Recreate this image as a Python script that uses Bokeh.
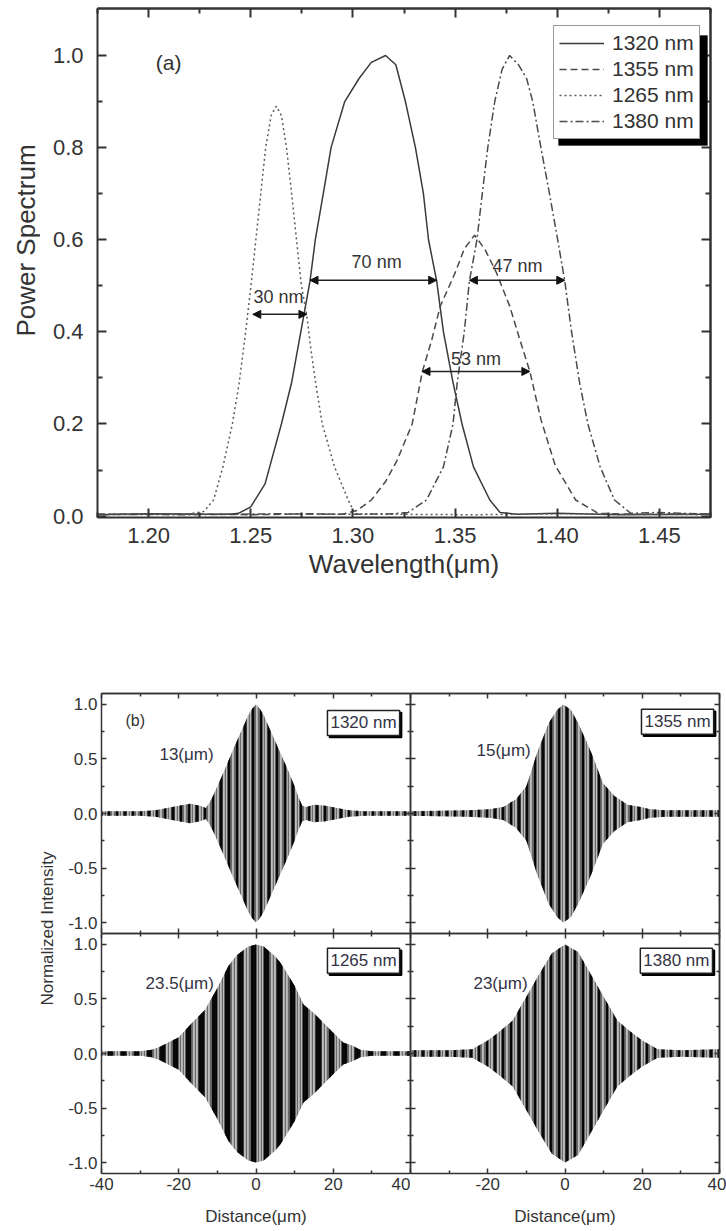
from bokeh.plotting import figure
from bokeh.models import (ColumnDataSource, Range1d, LinearAxis, FixedTicker,
                          NumeralTickFormatter, Legend, LegendItem, Arrow,
                          NormalHead, Label, BoxAnnotation)
from bokeh.layouts import column, row
from bokeh.embed import file_html
from bokeh.resources import INLINE
from bokeh.core.properties import value

FONT = "Liberation Sans"
INK = "#333333"

# ---------------- panel (a): power spectra ----------------
wl_1320 = [1.175, 1.20, 1.225, 1.240, 1.244, 1.250, 1.257, 1.265, 1.270, 1.2745, 1.279,
           1.2816, 1.2855, 1.2893, 1.296, 1.303, 1.309, 1.316, 1.321, 1.3257, 1.3306,
           1.3345, 1.337, 1.341, 1.3443, 1.349, 1.3534, 1.359, 1.367, 1.372, 1.38, 1.40,
           1.43, 1.475]
ps_1320 = [0.003, 0.005, 0.004, 0.004, 0.006, 0.02, 0.07, 0.2, 0.29, 0.4, 0.51,
           0.6, 0.7, 0.8, 0.9, 0.95, 0.985, 1.0, 0.98, 0.9, 0.8,
           0.7, 0.6, 0.51, 0.4, 0.29, 0.2, 0.107, 0.035, 0.008, 0.004, 0.006,
           0.003, 0.004]

wl_1355 = [1.175, 1.21, 1.25, 1.28, 1.295, 1.302, 1.309, 1.316, 1.3215, 1.329, 1.334,
           1.3386, 1.3427, 1.35, 1.3545, 1.3595, 1.3645, 1.3703, 1.3768, 1.3817, 1.3866,
           1.392, 1.399, 1.409, 1.42, 1.44, 1.475]
ps_1355 = [0.004, 0.005, 0.003, 0.005, 0.004, 0.012, 0.035, 0.075, 0.12, 0.2, 0.314,
           0.383, 0.455, 0.528, 0.58, 0.61, 0.58, 0.528, 0.455, 0.383, 0.314,
           0.21, 0.11, 0.035, 0.006, 0.004, 0.005]

wl_1265 = [1.175, 1.20, 1.22, 1.227, 1.2318, 1.2364, 1.241, 1.2443, 1.2475, 1.2501,
           1.2525, 1.2549, 1.2573, 1.260, 1.2625, 1.265, 1.2675, 1.270, 1.2724, 1.2748,
           1.2773, 1.2795, 1.2818, 1.285, 1.291, 1.2977, 1.301, 1.32, 1.36, 1.40, 1.44,
           1.475]
ps_1265 = [0.003, 0.004, 0.005, 0.01, 0.035, 0.107, 0.2, 0.288, 0.4, 0.5,
           0.6, 0.7, 0.8, 0.87, 0.89, 0.87, 0.8, 0.7, 0.6, 0.5,
           0.44, 0.36, 0.288, 0.2, 0.107, 0.035, 0.005, 0.004, 0.003, 0.005, 0.004,
           0.003]

wl_1380 = [1.175, 1.22, 1.26, 1.30, 1.32, 1.327, 1.336, 1.3443, 1.349, 1.351, 1.3545,
           1.357, 1.3607, 1.3633, 1.366, 1.3694, 1.373, 1.3767, 1.381, 1.385, 1.388,
           1.392, 1.3962, 1.4002, 1.4037, 1.407, 1.411, 1.415, 1.421, 1.428, 1.436,
           1.45, 1.475]
ps_1380 = [0.004, 0.003, 0.005, 0.004, 0.005, 0.008, 0.035, 0.107, 0.2, 0.288, 0.4,
           0.51, 0.6, 0.7, 0.8, 0.9, 0.97, 1.0, 0.98, 0.95, 0.9,
           0.8, 0.7, 0.6, 0.51, 0.4, 0.288, 0.2, 0.107, 0.035, 0.006,
           0.008, 0.004]

spec_labels = ["1320 nm", "1355 nm", "1265 nm", "1380 nm"]

fwhm_left = [1.251, 1.279, 1.357, 1.3338]
fwhm_right = [1.2775, 1.341, 1.4037, 1.3866]
fwhm_y = [0.438, 0.512, 0.512, 0.314]
fwhm_text = ["30 nm", "70 nm", "47 nm", "53 nm"]
fwhm_text_x = [1.2636, 1.3116, 1.3805, 1.3602]
fwhm_text_y = [0.476, 0.552, 0.542, 0.341]

wl_ticks = [1.20, 1.25, 1.30, 1.35, 1.40, 1.45]
wl_minor = [1.175, 1.225, 1.275, 1.325, 1.375, 1.425, 1.475]
ps_ticks = [0.0, 0.2, 0.4, 0.6, 0.8, 1.0]
ps_minor = [0.1, 0.3, 0.5, 0.7, 0.9]

# ---------------- panel (b): interferogram envelopes ----------------
x_1320 = [-40, -30, -26, -23, -20, -17, -14.5, -13, -12, -11, -10, -8, -6, -4, -2, -1, 0,
          1, 2, 4, 6, 8, 10, 11, 12, 13, 15, 18, 21, 24, 28, 40]
env_1320 = [0.02, 0.02, 0.03, 0.05, 0.07, 0.09, 0.07, 0.05, 0.1, 0.17, 0.25, 0.41, 0.58,
            0.74, 0.9, 0.96, 1.0, 0.96, 0.9, 0.74, 0.58, 0.42, 0.25, 0.15, 0.07, 0.06,
            0.08, 0.07, 0.05, 0.03, 0.02, 0.02]

x_1355 = [-40, -25, -19.5, -16, -12.7, -10, -7.2, -4.2, -2, -0.4, 1.5, 3.4, 6.8, 9.8,
          12.8, 16.2, 19.6, 22, 26, 40]
env_1355 = [0.02, 0.03, 0.04, 0.06, 0.13, 0.25, 0.56, 0.83, 0.95, 1.0, 0.95, 0.83, 0.56,
            0.28, 0.16, 0.08, 0.06, 0.04, 0.03, 0.03]

x_1265 = [-40, -30, -27, -25, -20, -16.6, -13.2, -10, -7.2, -5, -2, 0, 2, 5, 6.4, 10,
          12.3, 15, 20, 22.6, 25, 27, 30, 40]
env_1265 = [0.02, 0.02, 0.035, 0.06, 0.15, 0.28, 0.40, 0.6, 0.8, 0.9, 0.98, 1.0, 0.98,
            0.89, 0.83, 0.62, 0.45, 0.37, 0.19, 0.1, 0.07, 0.035, 0.02, 0.02]

x_1380 = [-40, -30, -24, -20, -17, -13.6, -10, -6.8, -3.4, 0, 3.4, 6.8, 10, 13.6, 17,
          20, 24, 30, 40]
env_1380 = [0.03, 0.03, 0.04, 0.12, 0.2, 0.3, 0.52, 0.72, 0.92, 1.0, 0.93, 0.72, 0.52,
            0.3, 0.2, 0.12, 0.04, 0.03, 0.04]

ifg_names = ["1320 nm", "1355 nm", "1265 nm", "1380 nm"]
coh_text = ["13(\u03bcm)", "15(\u03bcm)", "23.5(\u03bcm)", "23(\u03bcm)"]
coh_text_x = [-25.0, -22.9, -28.6, -23.7]
coh_text_y = [0.545, 0.58, 0.64, 0.64]
box_text_x = [18.5, 19.8, 18.5, 19.5]
box_text_y = [0.83, 0.84, 0.85, 0.85]
stripe_pitch = [8, 8, 13, 8]

d_ticks = [-40, -20, 0, 20, 40]
d_minor = [-30, -10, 10, 30]
ni_ticks = [-1.0, -0.5, 0.0, 0.5, 1.0]
ni_minor = [-0.75, -0.25, 0.25, 0.75]


def style_lines(ax, lw):
    ax.axis_line_color = INK
    ax.axis_line_width = lw
    ax.major_tick_line_color = INK
    ax.minor_tick_line_color = INK
    ax.major_tick_line_width = lw
    ax.minor_tick_line_width = lw
    ax.major_tick_out = 0
    ax.minor_tick_out = 0


def add_axis(fig, side, ticks, minor, fmt, size=17, standoff=4, tin=6, tmin=3,
             lw=1.5, label=None, label_size=17, label_standoff=5):
    ax = LinearAxis(ticker=FixedTicker(ticks=ticks, minor_ticks=minor),
                    formatter=NumeralTickFormatter(format=fmt))
    style_lines(ax, lw)
    ax.major_tick_in = tin
    ax.minor_tick_in = tmin
    ax.major_label_text_font = FONT
    ax.major_label_text_font_size = f"{size}px"
    ax.major_label_text_color = INK
    ax.major_label_standoff = standoff
    if label:
        ax.axis_label = label
        ax.axis_label_text_font = FONT
        ax.axis_label_text_font_size = f"{label_size}px"
        ax.axis_label_text_font_style = "normal"
        ax.axis_label_text_color = INK
        ax.axis_label_standoff = label_standoff
    fig.add_layout(ax, side)


def add_tick_side(fig, side, majors, minors, tin, tmin, lw=1.5):
    # mirror side: tick marks only (no labels)
    for locs, length in ((majors, tin), (minors, tmin)):
        ax = LinearAxis(ticker=FixedTicker(ticks=[], minor_ticks=locs))
        style_lines(ax, lw)
        ax.major_tick_in = 0
        ax.minor_tick_in = length
        ax.major_label_standoff = 0
        fig.add_layout(ax, side)


def text_strip(width, height, text, x, y, size):
    f = figure(width=width, height=height, x_range=Range1d(0, 1),
               y_range=Range1d(0, 1), output_backend="svg", toolbar_location=None,
               x_axis_location=None, y_axis_location=None, min_border=0)
    f.grid.visible = False
    f.outline_line_color = None
    f.add_layout(Label(x=x, y=y, x_units="screen", y_units="screen", text=text,
                       angle=90, angle_units="deg", text_align="center",
                       text_baseline="middle", text_font=FONT,
                       text_font_size=f"{size}px", text_color=INK))
    return f


# ---------------- figure (a) ----------------
lab_a = text_strip(40, 608, "Power Spectrum", 25, 277, 26)

p = figure(width=686, height=608, x_range=Range1d(1.175, 1.475),
           y_range=Range1d(-0.003, 1.102), output_backend="svg",
           toolbar_location=None, x_axis_location=None, y_axis_location=None,
           min_border_left=57, min_border_right=16, min_border_top=8,
           min_border_bottom=91)
p.grid.visible = False
p.outline_line_color = None

add_axis(p, "below", wl_ticks, wl_minor, "0.00", size=22, standoff=10,
         tin=9, tmin=5, lw=2, label="Wavelength(\u03bcm)", label_size=26,
         label_standoff=3)
add_tick_side(p, "above", wl_ticks, wl_minor, 9, 5, lw=2)
add_axis(p, "left", ps_ticks, ps_minor, "0.0", size=22, standoff=14,
         tin=9, tmin=5, lw=2)
add_tick_side(p, "right", ps_ticks, ps_minor, 9, 5, lw=2)

r1 = p.line(wl_1320, ps_1320, line_color="#3a3a3a", line_width=1.5)
r2 = p.line(wl_1355, ps_1355, line_color="#4a4a4a", line_width=1.5, line_dash="7 4")
r3 = p.line(wl_1265, ps_1265, line_color="#5a5a5a", line_width=1.5, line_dash="2 3")
r4 = p.line(wl_1380, ps_1380, line_color="#4a4a4a", line_width=1.5,
            line_dash="8 3 2 3")

arrow_src = ColumnDataSource(dict(x0=fwhm_left, x1=fwhm_right, y=fwhm_y))
p.add_layout(Arrow(source=arrow_src, x_start="x0", y_start="y", x_end="x1",
                   y_end="y", line_color="#222222", line_width=1.5,
                   start=NormalHead(size=8, fill_color="#111111", line_color="#111111"),
                   end=NormalHead(size=8, fill_color="#111111", line_color="#111111")))
p.text(x=fwhm_text_x, y=fwhm_text_y, text=fwhm_text, text_font=value(FONT),
       text_font_size="18px", text_color=INK, text_align="center",
       text_baseline="middle")
p.add_layout(Label(x=1.2035, y=0.984, text="(a)", text_font=FONT,
                   text_font_size="21px", text_color=INK, text_baseline="middle"))

p.add_layout(BoxAnnotation(left=461, right=610, bottom=372, top=482,
                           left_units="screen", right_units="screen",
                           bottom_units="screen", top_units="screen",
                           fill_color="black", fill_alpha=1, line_color="black"))
legend = Legend(items=[LegendItem(label=spec_labels[0], renderers=[r1]),
                       LegendItem(label=spec_labels[1], renderers=[r2]),
                       LegendItem(label=spec_labels[2], renderers=[r3]),
                       LegendItem(label=spec_labels[3], renderers=[r4])],
                location=(456, 378), margin=0, padding=5, spacing=2,
                glyph_width=45, glyph_height=22, label_height=22,
                label_standoff=8, label_text_font=FONT,
                label_text_font_size="21px", label_text_color=INK,
                border_line_color=INK, border_line_width=1.5,
                background_fill_color="white", background_fill_alpha=1)
p.add_layout(legend)

# ---------------- figure (b) ----------------
lab_b = text_strip(64, 620, "Normalized Intensity", 47, 300, 17)


def panel(i, x, env, left_col, bottom_row):
    f = figure(width=346 if left_col else 316, height=295 if bottom_row else 325,
               x_range=Range1d(-40, 40), y_range=Range1d(-1.1, 1.1),
               output_backend="svg", toolbar_location=None,
               x_axis_location=None, y_axis_location=None,
               min_border_left=37 if left_col else 0,
               min_border_right=0 if left_col else 7,
               min_border_top=0 if bottom_row else 85,
               min_border_bottom=55 if bottom_row else 0)
    f.grid.visible = False
    f.outline_line_color = None
    neg = [-v for v in env]
    f.varea(x=x, y1=neg, y2=env, fill_color="#bdbdbd", hatch_pattern="vertical_line",
            hatch_color="#6a6a6a", hatch_scale=3, hatch_weight=1.4)
    f.varea(x=x, y1=neg, y2=env, fill_alpha=0, hatch_pattern="vertical_line",
            hatch_color="black", hatch_scale=stripe_pitch[i],
            hatch_weight=3 if stripe_pitch[i] < 10 else 6, hatch_alpha=0.95)

    if bottom_row:
        if left_col:
            ticks, minor = d_ticks, d_minor
        else:
            ticks, minor = d_ticks[1:], d_minor + d_ticks[:1]
        add_axis(f, "below", ticks, minor, "0", size=17, standoff=4,
                 tin=5, tmin=3, label="Distance(\u03bcm)", label_size=17,
                 label_standoff=14)
    else:
        add_tick_side(f, "below", d_ticks, d_minor, 5, 3)
    add_tick_side(f, "above", d_ticks, d_minor, 5, 3)
    if left_col:
        add_axis(f, "left", ni_ticks, ni_minor, "0.0", size=17, standoff=4,
                 tin=5, tmin=3)
    else:
        add_tick_side(f, "left", ni_ticks, ni_minor, 5, 3)
    add_tick_side(f, "right", ni_ticks, ni_minor, 5, 3)

    f.add_layout(Label(x=coh_text_x[i], y=coh_text_y[i], text=coh_text[i],
                       text_font=FONT, text_font_size="17px", text_color="#333344",
                       text_baseline="middle"))
    f.add_layout(Label(x=box_text_x[i], y=box_text_y[i], text=ifg_names[i],
                       x_offset=2, y_offset=-2, text_font=FONT,
                       text_font_size="17px", text_color="black",
                       text_baseline="middle", padding=3,
                       background_fill_color="black", border_line_color="black",
                       border_line_width=1.5))
    f.add_layout(Label(x=box_text_x[i], y=box_text_y[i], text=ifg_names[i],
                       text_font=FONT, text_font_size="17px", text_color="#333344",
                       text_baseline="middle", padding=3,
                       background_fill_color="white", border_line_color="#222222",
                       border_line_width=1.5))
    if i == 0:
        f.add_layout(Label(x=-33.8, y=0.85, text="(b)", text_font=FONT,
                           text_font_size="16px", text_color="#333333",
                           text_baseline="middle"))
    return f


f1 = panel(0, x_1320, env_1320, True, False)
f2 = panel(1, x_1355, env_1355, False, False)
f3 = panel(2, x_1265, env_1265, True, True)
f4 = panel(3, x_1380, env_1380, False, True)

layout = column(row(lab_a, p), row(lab_b, column(row(f1, f2), row(f3, f4))))
open("out.html", "w").write(file_html(layout, INLINE))
